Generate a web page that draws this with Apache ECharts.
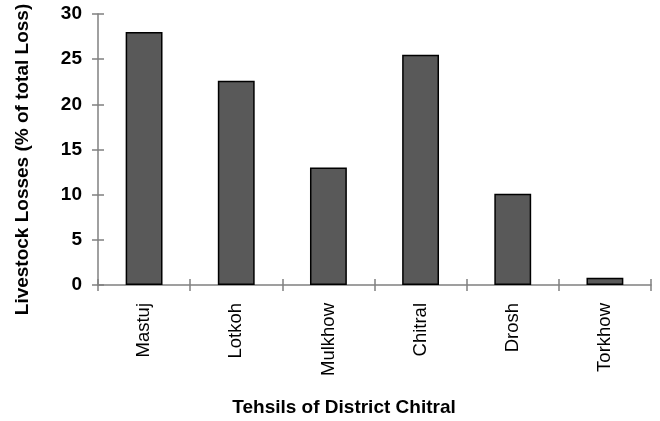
<!DOCTYPE html>
<html><head><meta charset="utf-8">
<script src="https://cdn.jsdelivr.net/npm/echarts@6/dist/echarts.min.js"></script>
<style>html,body{margin:0;padding:0;background:#fff}#c{width:660px;height:421px}</style>
</head><body><div id="c"></div>
<script>
var categories = ["Mastuj", "Lotkoh", "Mulkhow", "Chitral", "Drosh", "Torkhow"];
var losses = [28.0, 22.6, 13.0, 25.5, 10.1, 0.8];
var yTicks = [0, 5, 10, 15, 20, 25, 30];
var yTitle = "Livestock Losses (% of total Loss)";
var xTitle = "Tehsils of District Chitral";

var chart = echarts.init(document.getElementById('c'), null, {renderer: 'canvas'});
var axisColor = '#808080';
var fam = '"Liberation Sans", Arial, sans-serif';
var yMin = yTicks[0], yMax = yTicks[yTicks.length - 1];
chart.setOption({
  animation: false,
  grid: {left: 98, right: 9, top: 14, bottom: 136, containLabel: false},
  xAxis: [{
    type: 'category', data: categories,
    axisLine: {lineStyle: {color: axisColor, width: 1.5}},
    axisTick: {show: true, alignWithLabel: false, length: 6, lineStyle: {color: axisColor, width: 1.5}},
    axisLabel: {rotate: 90, margin: 18, color: '#000', fontFamily: fam, fontSize: 18.5}
  }, {
    type: 'category', data: categories, position: 'bottom',
    axisLine: {show: false},
    axisTick: {show: true, inside: true, alignWithLabel: false, length: 6, lineStyle: {color: axisColor, width: 1.5}},
    axisLabel: {show: false}
  }],
  yAxis: [{
    type: 'value', min: yMin, max: yMax, interval: 5,
    splitLine: {show: false},
    axisLine: {show: true, lineStyle: {color: axisColor, width: 1.5}},
    axisTick: {show: true, length: 6, lineStyle: {color: axisColor, width: 1.5}},
    axisLabel: {margin: 16, color: '#000', fontWeight: 'bold', fontFamily: fam, fontSize: 19}
  }, {
    type: 'value', min: yMin, max: yMax, interval: 5, position: 'left',
    splitLine: {show: false},
    axisLine: {show: false},
    axisTick: {show: true, inside: true, length: 6, lineStyle: {color: axisColor, width: 1.5}},
    axisLabel: {show: false}
  }],
  graphic: [{
    type: 'text', x: 22.5, y: 159.5, rotation: Math.PI / 2,
    style: {text: yTitle, fill: '#000', font: 'bold 19px ' + fam, textAlign: 'center', textVerticalAlign: 'middle'}
  }, {
    type: 'text', x: 344, y: 407.5,
    style: {text: xTitle, fill: '#000', font: 'bold 19px ' + fam, textAlign: 'center', textVerticalAlign: 'middle'}
  }],
  series: [{
    type: 'bar', data: losses, barWidth: '40%', xAxisIndex: 0, yAxisIndex: 0,
    itemStyle: {color: '#595959', borderColor: '#000', borderWidth: 1.5}
  }]
});
</script></body></html>
